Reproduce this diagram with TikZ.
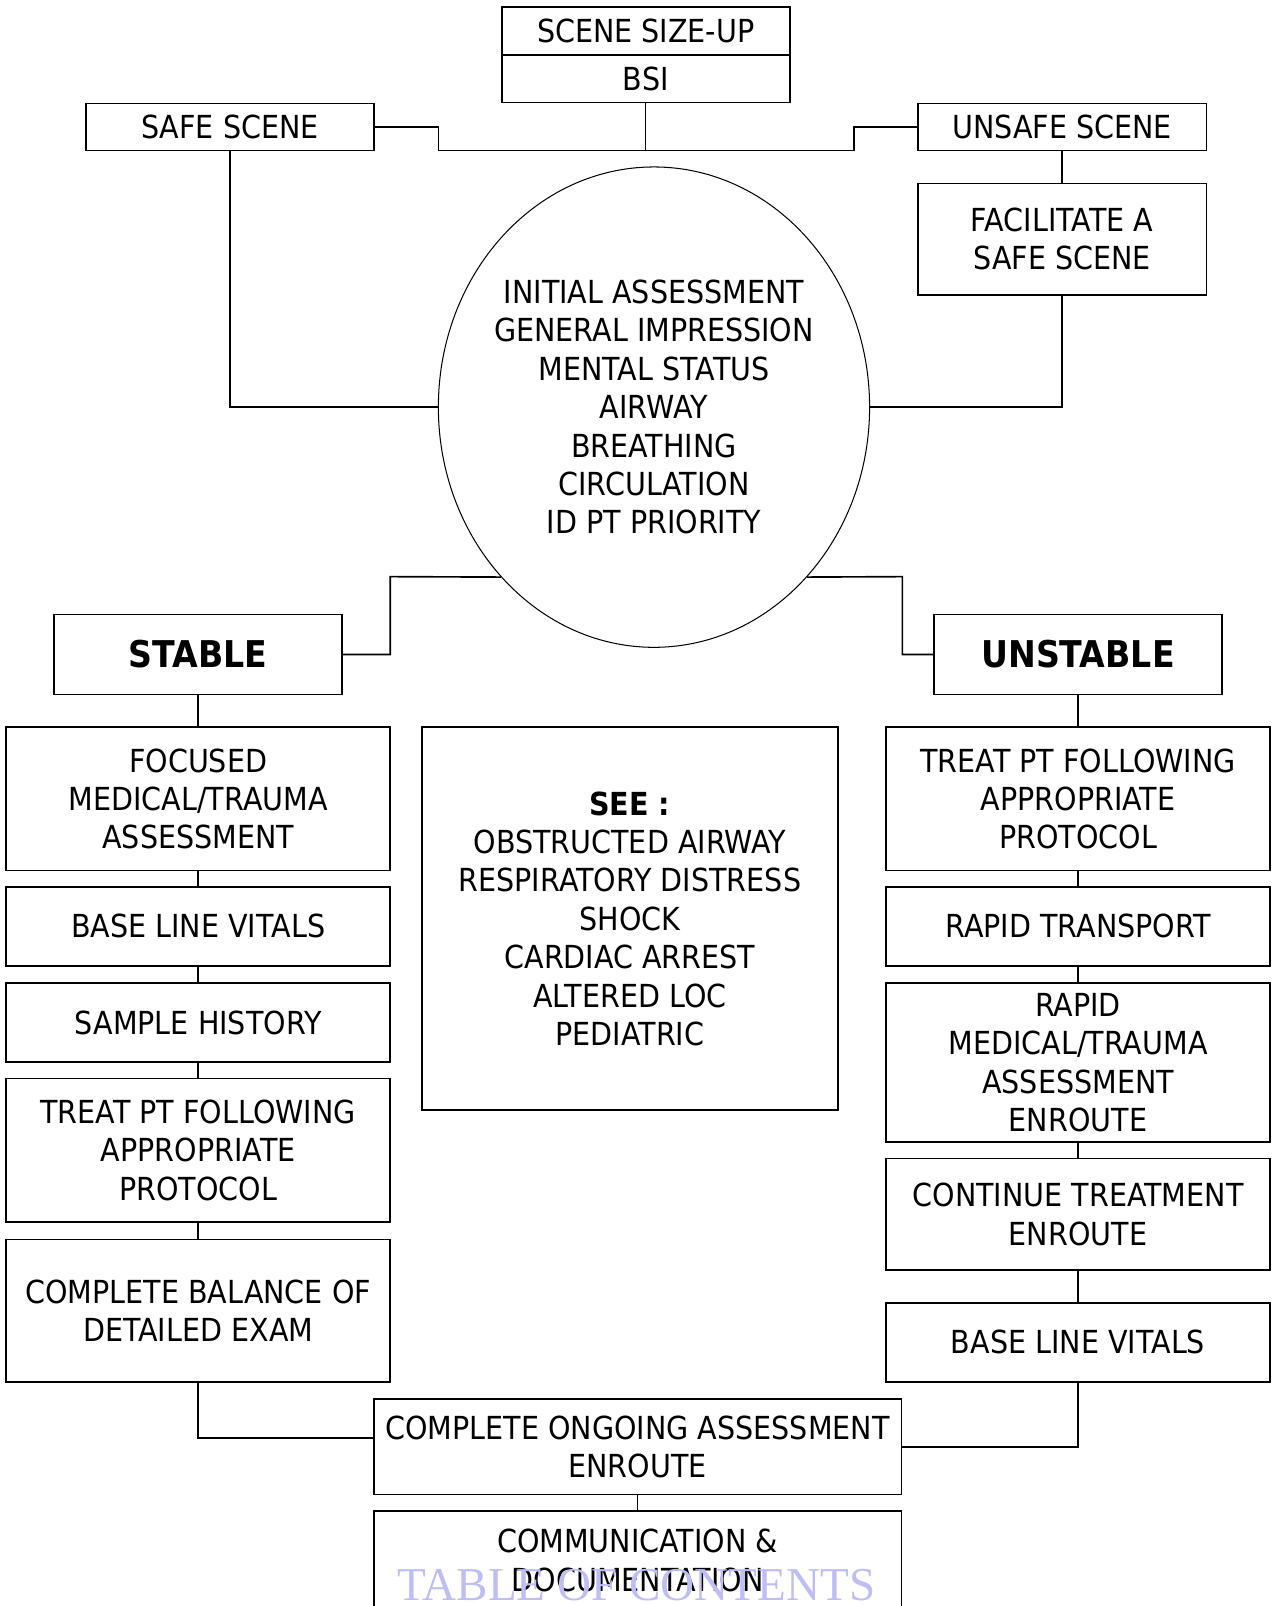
\documentclass[tikz,border=0pt]{standalone}
\usepackage{fontspec}
\setmainfont{DejaVu Sans}[FakeStretch=0.9]
\newfontfamily\wmfont{Liberation Serif}
\usetikzlibrary{shapes.geometric}
\definecolor{wmcol}{RGB}{190,190,245}
\newcommand{\mainfs}{\fontsize{15.5}{18.75}\selectfont}
\tikzset{
  box/.style={draw, line width=0.8pt, inner sep=0pt, align=center, font=\mainfs},
  conn/.style={line width=0.8pt},
  thinconn/.style={line width=0.6pt},
}
\begin{document}
\begin{tikzpicture}[x=0.5pt,y=-0.5pt]
\useasboundingbox (0,0) rectangle (1247,1568);
% top
\node[box, minimum width=140.5pt, minimum height=23.5pt] (sizeup) at (630.5,30.5) {SCENE SIZE-UP};
\node[box, minimum width=140.5pt, minimum height=23pt] (bsi) at (630.5,77) {BSI};
\node[box, minimum width=140.5pt, minimum height=23pt] (safe) at (224.5,124) {SAFE SCENE};
\node[box, minimum width=141pt, minimum height=23pt] (unsafe) at (1037,124) {UNSAFE SCENE};
\node[box, minimum width=141pt, minimum height=54.5pt] (facil) at (1037,233.5) {FACILITATE A\\SAFE SCENE};
% ellipse
\node[draw, ellipse, line width=0.5pt, inner sep=0pt, minimum width=210.5pt, minimum height=234.5pt,
  label={[font=\mainfs, align=center]center:INITIAL ASSESSMENT\\GENERAL IMPRESSION\\MENTAL STATUS\\AIRWAY\\BREATHING\\CIRCULATION\\ID PT PRIORITY}] (ell) at (638.5,397.5) {};
% stable / unstable
\node[box, minimum width=140.5pt, minimum height=39pt, font=\fontsize{18}{21}\selectfont\bfseries] (stable) at (193.5,639) {STABLE};
\node[box, minimum width=140.5pt, minimum height=39pt, font=\fontsize{18}{21}\selectfont\bfseries] (unstable) at (1052.5,639) {UNSTABLE};
% left column
\node[box, minimum width=187.5pt, minimum height=70pt] (focusedL) at (193.5,780) {FOCUSED\\MEDICAL/TRAUMA\\ASSESSMENT};
\node[box, minimum width=187.5pt, minimum height=38.5pt] (vitalsL) at (193.5,904.5) {BASE LINE VITALS};
\node[box, minimum width=187.5pt, minimum height=38.5pt] (sample) at (193.5,998.5) {SAMPLE HISTORY};
\node[box, minimum width=187.5pt, minimum height=70pt] (treatL) at (193.5,1123) {TREAT PT FOLLOWING\\APPROPRIATE\\PROTOCOL};
\node[box, minimum width=187.5pt, minimum height=69.5pt] (balance) at (193.5,1279.5) {COMPLETE BALANCE OF\\DETAILED EXAM};
% middle
\node[box, minimum width=203pt, minimum height=187pt] (see) at (615,897) {\textbf{SEE :}\\OBSTRUCTED AIRWAY\\RESPIRATORY DISTRESS\\SHOCK\\CARDIAC ARREST\\ALTERED LOC\\PEDIATRIC};
% right column
\node[box, minimum width=187.5pt, minimum height=70pt] (treatR) at (1052.5,780) {TREAT PT FOLLOWING\\APPROPRIATE\\PROTOCOL};
\node[box, minimum width=187.5pt, minimum height=38.5pt] (transport) at (1052.5,904.5) {RAPID TRANSPORT};
\node[box, minimum width=187.5pt, minimum height=77.5pt] (rapid) at (1052.5,1037.5) {RAPID\\MEDICAL/TRAUMA\\ASSESSMENT\\ENROUTE};
\node[box, minimum width=187.5pt, minimum height=54.5pt] (cont) at (1052.5,1185.5) {CONTINUE TREATMENT\\ENROUTE};
\node[box, minimum width=187.5pt, minimum height=38.5pt] (vitalsR) at (1052.5,1310.5) {BASE LINE VITALS};
% bottom
\node[box, minimum width=257.5pt, minimum height=46.5pt] (ongoing) at (622.5,1412.5) {COMPLETE ONGOING ASSESSMENT\\ENROUTE};
\node[box, minimum width=257.5pt, minimum height=48.5pt] (comm) at (622.5,1523.5) {COMMUNICATION \&\\DOCUMENTATION};
% watermark
\node[anchor=base, inner sep=0pt, text=wmcol, font=\wmfont\fontsize{23}{23}\selectfont] (wm) at (621.5,1563) {TABLE OF CONTENTS};
% connectors
\coordinate (jn) at (630.5,147);
\coordinate (jl) at (428,147);
\coordinate (jr) at (834,147);
\coordinate (kL) at (381,563);
\coordinate (kR) at (881,563);
\draw[thinconn] (bsi) -- (jn);
\draw[thinconn] (jl) -- (jr);
\draw[conn] (safe.east) -| (jl);
\draw[conn] (unsafe.west) -| (jr);
\draw[conn] (unsafe) -- (facil);
\draw[conn] (safe.south) |- (ell.west);
\draw[conn] (facil.south) |- (ell.east);
\draw[conn] (stable.east) -| (kL) -- (ell.228);
\draw[conn] (unstable.west) -| (kR) -- (ell.312);
\draw[conn] (stable) -- (focusedL);
\draw[conn] (focusedL) -- (vitalsL);
\draw[conn] (vitalsL) -- (sample);
\draw[conn] (sample) -- (treatL);
\draw[conn] (treatL) -- (balance);
\draw[conn] (unstable) -- (treatR);
\draw[conn] (treatR) -- (transport);
\draw[conn] (transport) -- (rapid);
\draw[conn] (rapid) -- (cont);
\draw[conn] (cont) -- (vitalsR);
\draw[conn] (balance.south) |- ([yshift=4.25pt]ongoing.west);
\draw[conn] (vitalsR.south) |- (ongoing.east);
\draw[conn] (ongoing) -- (comm);
\end{tikzpicture}
\end{document}
